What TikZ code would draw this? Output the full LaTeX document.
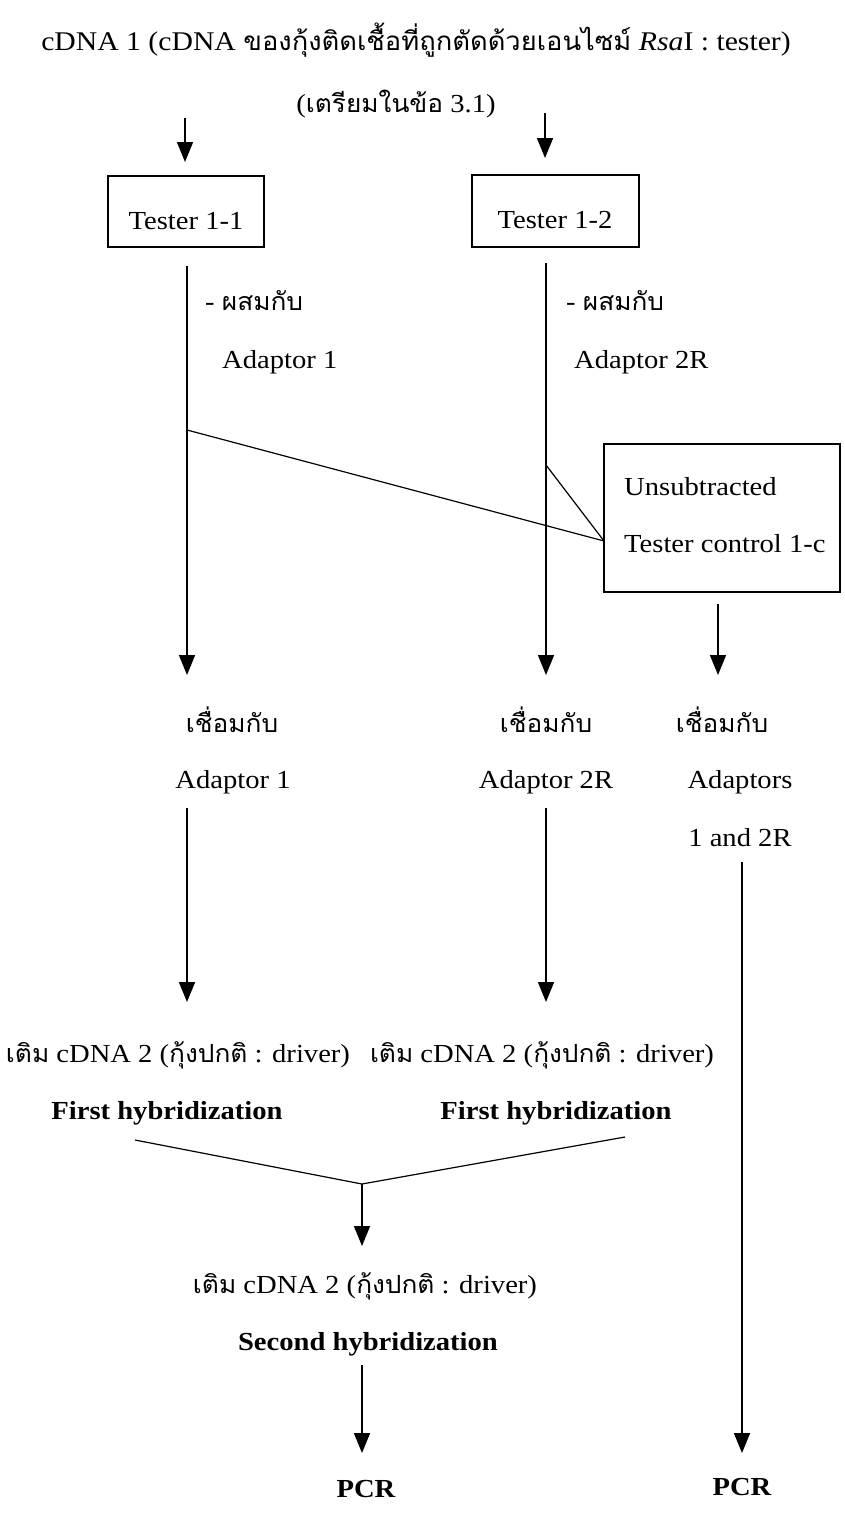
\documentclass[tikz,border=0pt]{standalone}
\usepackage{fontspec}
\setmainfont{Liberation Serif}[FakeStretch=1.1]
\newfontfamily\thaifont[Script=Thai,FakeStretch=1.05]{Loma}
\newcommand\thx[1]{{\thaifont\fontsize{25}{28}\selectfont #1}}
\newcommand\thxt[1]{{\thaifont\fontsize{26}{29}\selectfont #1}}
\usetikzlibrary{arrows.meta}
\begin{document}
\begin{tikzpicture}[x=1pt,y=-1pt,
  txt/.style={font=\fontsize{26}{30}\selectfont, inner sep=0pt, anchor=base},
  bold/.style={txt, font=\fontsize{26}{30}\selectfont\bfseries},
  boxed/.style={draw, line width=1.3pt, inner sep=0pt},
  arr/.style={line width=1.6pt, -{Triangle[length=20pt,width=16pt]}},
  ln/.style={line width=1.2pt}]
\useasboundingbox[fill=white] (0,0) rectangle (845,1515);

% title
\node[txt, font=\fontsize{27}{30}\selectfont] (title) at (416,50) {cDNA 1 (cDNA \thxt{ของกุ้งติดเชื้อที่ถูกตัดด้วยเอนไซม์} \textit{Rsa}I : tester)};
\node[txt] (title2) at (396,112) {(\thx{เตรียมในข้อ} 3.1)};

% top arrows
\coordinate (a1s) at (185,118);
\coordinate (a1e) at (185,162);
\coordinate (a2s) at (545,113);
\coordinate (a2e) at (545,158);
\draw[arr] (a1s) -- (a1e);
\draw[arr] (a2s) -- (a2e);

% tester boxes
\node[boxed, minimum width=156pt, minimum height=71pt] (t11) at (186,211.5) {};
\node[txt] (t11l) at (186,229) {Tester 1-1};
\node[boxed, minimum width=167pt, minimum height=72pt] (t12) at (555.5,211) {};
\node[txt] (t12l) at (555,228) {Tester 1-2};

% mix labels
\node[txt, anchor=base west] (mix1) at (205,310) {- \thx{ผสมกับ}};
\node[txt, anchor=base west] (ad1) at (222,368) {Adaptor 1};
\node[txt, anchor=base west] (mix2) at (566,310) {- \thx{ผสมกับ}};
\node[txt, anchor=base west] (ad2) at (574,368) {Adaptor 2R};

% long vertical arrows
\coordinate (l1s) at (187,266);
\coordinate (l1e) at (187,675);
\coordinate (l2s) at (546,263);
\coordinate (l2e) at (546,675);
\draw[arr] (l1s) -- (l1e);
\draw[arr] (l2s) -- (l2e);

% unsubtracted control box
\node[boxed, minimum width=236pt, minimum height=148pt] (uc) at (722,518) {};
\node[txt, anchor=base west] (uc1) at (624,495) {Unsubtracted};
\node[txt, anchor=base west] (uc2) at (624,552) {Tester control 1-c};
\coordinate (b1) at (187,430);
\coordinate (b2) at (546,465);
\coordinate (uin) at (604,541);
\draw[ln] (b1) -- (uin);
\draw[ln] (b2) -- (uin);

\coordinate (a3s) at (718,604);
\coordinate (a3e) at (718,675);
\draw[arr] (a3s) -- (a3e);

% ligation labels
\node[txt] (lig1) at (232,732) {\thx{เชื่อมกับ}};
\node[txt] (lig1b) at (233,788) {Adaptor 1};
\node[txt] (lig2) at (546,732) {\thx{เชื่อมกับ}};
\node[txt] (lig2b) at (546,788) {Adaptor 2R};
\node[txt] (lig3) at (722,732) {\thx{เชื่อมกับ}};
\node[txt] (lig3b) at (740,788) {Adaptors};
\node[txt] (lig3c) at (740,846) {1 and 2R};

% arrows to driver
\coordinate (m1s) at (187,808);
\coordinate (m1e) at (187,1002);
\coordinate (m2s) at (546,808);
\coordinate (m2e) at (546,1002);
\draw[arr] (m1s) -- (m1e);
\draw[arr] (m2s) -- (m2e);

\coordinate (r3s) at (742,862);
\coordinate (r3e) at (742,1453);
\draw[arr] (r3s) -- (r3e);

% driver labels
\node[txt] (dr1) at (178,1062) {\thx{เติม} cDNA 2 (\thx{กุ้งปกติ} : driver)};
\node[txt] (dr2) at (542,1062) {\thx{เติม} cDNA 2 (\thx{กุ้งปกติ} : driver)};
\node[bold] (fh1) at (167,1119) {First hybridization};
\node[bold] (fh2) at (556,1119) {First hybridization};

% merge
\coordinate (v1) at (135,1140);
\coordinate (v2) at (625,1137);
\coordinate (vm) at (362,1184);
\draw[ln] (v1) -- (vm) -- (v2);
\coordinate (vme) at (362,1246);
\draw[arr] (vm) -- (vme);

\node[txt] (dr3) at (365,1293) {\thx{เติม} cDNA 2 (\thx{กุ้งปกติ} : driver)};
\node[bold] (sh) at (368,1350) {Second hybridization};

\coordinate (p1s) at (362,1365);
\coordinate (p1e) at (362,1453);
\draw[arr] (p1s) -- (p1e);

\node[bold] (pcr1) at (366,1497) {PCR};
\node[bold] (pcr2) at (742,1495) {PCR};
\end{tikzpicture}
\end{document}
